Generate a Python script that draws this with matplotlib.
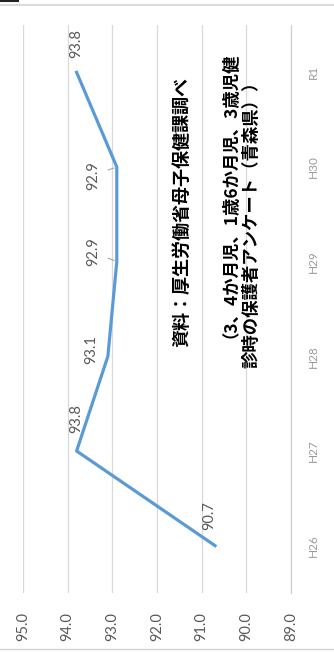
import matplotlib
matplotlib.use("Agg")
import matplotlib.pyplot as plt
from matplotlib.lines import Line2D

# 子育て世代の満足度（％）の推移、横向きレイアウト
years = ["H26", "H27", "H28", "H29", "H30", "R1"]
rates = [90.7, 93.8, 93.1, 92.9, 92.9, 93.8]
value_ticks = [95.0, 94.0, 93.0, 92.0, 91.0, 90.0, 89.0]

# label offsets (points) from each point, and which ones get a leader line
label_offsets = [(-4, 22), (0, 23), (-12, 5), (-17, 7), (-17, -6), (0, 21)]
leaders = [False, False, False, True, True, False]

source_note = "資料：厚生労働省母子保健課調べ"
note_line1 = "（3、4か月児、1歳6か月児、3歳児健"
note_line2 = "診時の保護者アンケート（青森県））"

W, H = 334, 652
fig = plt.figure(figsize=(W / 100, H / 100), dpi=100)
fig.patch.set_facecolor("white")

ax = fig.add_axes([23 / W, 1 - 593 / H, (291 - 23) / W, (593 - 25) / H])
pos = list(range(len(years)))

ax.plot(rates, pos, color="#5b9bd5", lw=2.3, solid_joinstyle="round", zorder=3)

ax.set_xlim(95.0, 89.0)
ax.set_ylim(-0.5, len(years) - 0.5)
ax.set_xticks(value_ticks)
ax.set_xticklabels([f"{v:.1f}" for v in value_ticks], rotation=90,
                   fontsize=10.5, color="#595959", family="Lato")
ax.set_yticks(pos)
ax.set_yticklabels(years, rotation=90, fontsize=8.5, color="#9a9a9a",
                   family="Lato", va="center")
ax.yaxis.tick_right()
ax.tick_params(axis="x", length=0, pad=14)
ax.tick_params(axis="y", length=0, pad=12)
ax.grid(axis="x", color="#d9d9d9", lw=0.9)
ax.set_axisbelow(True)
for side in ["top", "bottom", "left"]:
    ax.spines[side].set_visible(False)
ax.spines["right"].set_color("#d0d0d0")
ax.spines["right"].set_linewidth(0.9)

for p, v, off, lead in zip(pos, rates, label_offsets, leaders):
    kw = {}
    if lead:
        kw["arrowprops"] = dict(arrowstyle="-", color="#a6a6a6", lw=0.8,
                                shrinkA=4, shrinkB=2)
    ax.annotate(f"{v:.1f}", xy=(v, p), xytext=off, textcoords="offset points",
                rotation=90, ha="center", va="center", fontsize=10.5,
                color="#595959", family="Lato", **kw)

# notes: anchored at the start of each baseline so the lines sit where wanted
cjk = ["Noto Sans CJK JP", "DejaVu Sans"]
note_kw = dict(rotation=90, rotation_mode="anchor", ha="left", va="baseline",
               fontweight="bold", family=cjk, color="black")
fig.text(187 / W, 1 - 347 / H, source_note, fontsize=13, **note_kw)
fig.text(226 / W, 1 - 338 / H, note_line1, fontsize=12.5, **note_kw)
fig.text(256 / W, 1 - 368 / H, note_line2, fontsize=12.5, **note_kw)

# outer frame lines
fig.add_artist(Line2D([0, 1], [1 - 5 / H, 1 - 5 / H], color="#d4d4d4", lw=1.2,
                      transform=fig.transFigure))
fig.add_artist(Line2D([0, 1], [1 - 649 / H, 1 - 649 / H], color="#d4d4d4", lw=1.0,
                      transform=fig.transFigure))
fig.add_artist(Line2D([0, 18 / W], [1 - 1 / H, 1 - 1 / H], color="#222222", lw=1.5,
                      transform=fig.transFigure))

fig.savefig("out.png", dpi=100)
